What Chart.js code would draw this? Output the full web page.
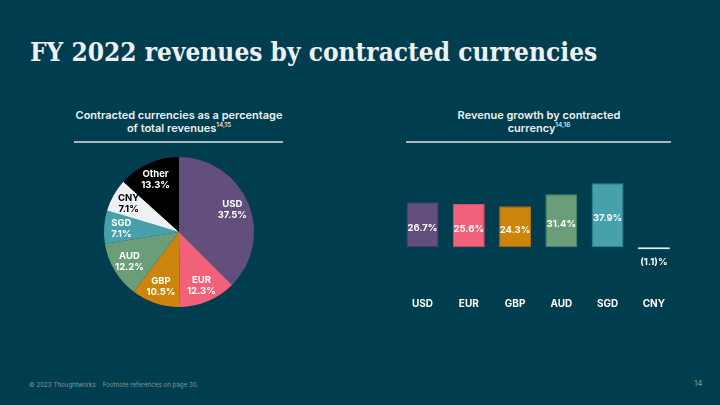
<!DOCTYPE html>
<html>
<head>
<meta charset="utf-8">
<script src="https://cdn.jsdelivr.net/npm/chart.js@4.4.0/dist/chart.umd.min.js"></script>
<style>
  html, body { margin: 0; padding: 0; }
  body { width: 720px; height: 405px; background: #003d4f; position: relative; overflow: hidden; font-family: Inter, "Noto Sans", sans-serif; color: #edf1f3; }
  #title { position: absolute; left: 30px; top: 37px; font-family: "DejaVu Serif Condensed", "DejaVu Serif", serif; font-stretch: condensed; font-weight: 600; font-size: 26px; white-space: nowrap; }
  .head { position: absolute; text-align: center; font-size: 11px; font-weight: 600; line-height: 13px; }
  .head sup { font-size: 6.5px; vertical-align: 5px; line-height: 0; font-weight: 500; }
  .rule { position: absolute; height: 2px; background: #a9b9be; }
  canvas { position: absolute; }
  #foot { position: absolute; left: 29px; top: 381px; font-size: 6.2px; color: #83999f; white-space: nowrap; }
  #page { position: absolute; left: 694px; top: 378px; font-size: 8px; color: #83999f; }
</style>
</head>
<body>
<div id="title">FY 2022 revenues by contracted currencies</div>

<div class="head" style="left:58px; top:109px; width:242px;">Contracted currencies as a percentage<br>of total revenues<sup>14,15</sup></div>
<div class="rule" style="left:74px; top:141px; width:209px;"></div>

<div class="head" style="left:418px; top:109px; width:242px;">Revenue growth by contracted<br>currency<sup>14,16</sup></div>
<div class="rule" style="left:406px; top:141px; width:265px;"></div>

<canvas id="pie" width="162" height="162" style="left:98px; top:151px; width:162px; height:162px;"></canvas>
<canvas id="bar" width="296" height="150" style="left:390px; top:170px; width:296px; height:150px;"></canvas>

<div id="foot">© 2023 Thoughtworks &nbsp;&nbsp; Footnote references on page 30.</div>
<div id="page">14</div>

<script>
// pie: share of total revenues
const pieLabels = ["USD", "EUR", "GBP", "AUD", "SGD", "CNY", "Other"];
const pieValues = [37.5, 12.3, 10.5, 12.2, 7.1, 7.1, 13.3];
const pieColors = ["#634f7d", "#f2617a", "#cc850a", "#6b9e78", "#47a1ad", "#edf1f3", "#000000"];
const pieText = ["#fff", "#fff", "#fff", "#fff", "#fff", "#000", "#fff"];

// bars: revenue growth
const barLabels = ["USD", "EUR", "GBP", "AUD", "SGD", "CNY"];
const barValues = [26.7, 25.6, 24.3, 31.4, 37.9, -1.1];
const barColors = ["#634f7d", "#f2617a", "#cc850a", "#6b9e78", "#47a1ad", "#edf1f3"];
const barBorders = ["#4e3d66", "#d94f67", "#a86d08", "#578565", "#37848f", "#edf1f3"];
const barText = ["26.7%", "25.6%", "24.3%", "31.4%", "37.9%", "(1.1)%"];

const LABEL_FONT = "bold 9.5px Inter";

const pieLabelPlugin = {
  id: "pieLabels",
  afterDatasetsDraw(chart) {
    const ctx = chart.ctx;
    const arcs = chart.getDatasetMeta(0).data;
    ctx.save();
    ctx.font = LABEL_FONT;
    ctx.textAlign = "center";
    ctx.textBaseline = "middle";
    arcs.forEach((a, i) => {
      const mid = (a.startAngle + a.endAngle) / 2;
      const r = a.outerRadius * 0.77;
      const x = a.x + Math.cos(mid) * r;
      const y = a.y + Math.sin(mid) * r;
      ctx.fillStyle = pieText[i];
      ctx.fillText(pieLabels[i], x, y - 5.5);
      ctx.fillText(pieValues[i].toFixed(1) + "%", x, y + 5.5);
    });
    ctx.restore();
  },
};

new Chart(document.getElementById("pie"), {
  type: "pie",
  data: { labels: pieLabels, datasets: [{ data: pieValues, backgroundColor: pieColors, borderWidth: 0 }] },
  options: {
    responsive: false, animation: false, events: [],
    layout: { padding: 6 },
    plugins: { legend: { display: false }, tooltip: { enabled: false } },
  },
  plugins: [pieLabelPlugin],
});

const barLabelPlugin = {
  id: "barLabels",
  afterDatasetsDraw(chart) {
    const ctx = chart.ctx;
    const bars = chart.getDatasetMeta(0).data;
    ctx.save();
    ctx.font = LABEL_FONT;
    ctx.textAlign = "center";
    ctx.textBaseline = "middle";
    ctx.fillStyle = "#fff";
    bars.forEach((b, i) => {
      const y = barValues[i] < 0 ? b.base + 15 : (b.y + b.base) / 2 + 3;
      ctx.fillText(barText[i], b.x, y);
    });
    ctx.restore();
  },
};

new Chart(document.getElementById("bar"), {
  type: "bar",
  data: {
    labels: barLabels,
    datasets: [{ data: barValues, backgroundColor: barColors, borderColor: barBorders, borderWidth: 1, borderSkipped: false, categoryPercentage: 1, barPercentage: 0.69 }],
  },
  options: {
    responsive: false, animation: false, events: [],
    layout: { padding: { left: 9.4, right: 9, top: 9.7, bottom: 7.4 } },
    plugins: { legend: { display: false }, tooltip: { enabled: false } },
    scales: {
      x: { grid: { display: false, drawTicks: false }, border: { display: false }, ticks: { color: "#fff", padding: 3, font: { family: "Inter", size: 10, weight: "bold" } } },
      y: { display: false, min: -28, max: 40 },
    },
  },
  plugins: [barLabelPlugin],
});
</script>
</body>
</html>
